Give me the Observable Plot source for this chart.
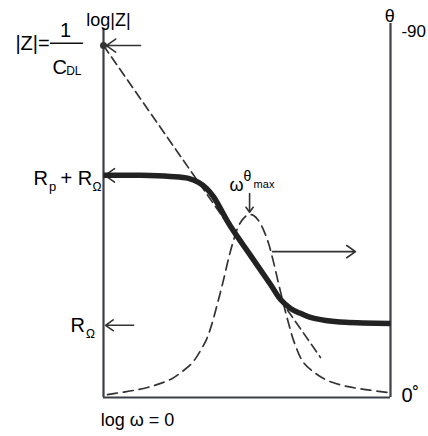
<!DOCTYPE html>
<html>
<head>
<meta charset="utf-8">
<script src="https://cdn.jsdelivr.net/npm/d3@7"></script>
<script src="https://cdn.jsdelivr.net/npm/@observablehq/plot@0.6"></script>
<style>
  html, body { margin: 0; padding: 0; background: #fff; }
</style>
</head>
<body>
<div id="chart"></div>
<script>
// log|Z| (solid, thick) vs log ω (arbitrary units 0..10)
const logW  = [0, 1.29, 2.33, 2.96, 3.31, 3.59, 3.83, 4.43, 5.12, 5.82, 6.17, 6.52, 6.86, 7.21, 7.74, 8.43, 10];
const logZ  = [5.94, 5.94, 5.91, 5.86, 5.75, 5.59, 5.37, 4.57, 3.80, 3.02, 2.62, 2.38, 2.25, 2.14, 2.06, 2.01, 1.98];

// capacitive asymptote 1/(ωC_DL) (dashed)
const asymW = [0, 7.56];
const asymZ = [9.41, 1.07];

// phase angle |θ| in degrees (dashed bell)
const phaseW = [0.14, 0.59, 1.05, 1.53, 1.99, 2.40, 2.79, 3.10, 3.38, 3.59, 3.76, 3.97, 4.15, 4.36, 4.53, 4.70, 4.88, 5.05, 5.23, 5.40, 5.57, 5.75, 5.92, 6.10, 6.27, 6.45, 6.66, 6.97, 7.39, 7.80, 8.33, 8.85, 9.37, 9.90];
const phaseDeg = [0.7, 1.2, 1.7, 2.4, 3.4, 4.6, 6.5, 8.4, 11.3, 14.0, 17.3, 22.6, 27.4, 33.5, 37.8, 41.2, 43.1, 44.0, 43.8, 42.6, 40.4, 37.1, 32.7, 27.4, 22.6, 17.8, 13.0, 8.4, 5.8, 4.1, 2.9, 2.2, 1.7, 1.2];
const phaseMax = 90; // right axis: -90 at top, 0 at bottom

// annotation arrows: [x1, y1, x2, y2, headLength]
const arrowNames = ["1/Cdl", "Rp+RΩ", "RΩ", "θmax", "toθaxis"];
const arrowX1 = [1.29, 1.50, 1.05, 5.09, 5.89];
const arrowY1 = [9.41, 5.94, 1.93, 5.45, 3.90];
const arrowX2 = [0.10, 0.05, 0.07, 5.09, 8.78];
const arrowY2 = [9.41, 5.94, 1.93, 4.95, 3.90];
const arrowHead = [11, 11, 11, 6, 10];

// marker at |Z| = 1/C_DL
const dotW = [0];
const dotZ = [9.41];

// fraction bar in "1 / C_DL"
const barX = [-1.85, -0.73];
const barY = [9.47, 9.47];

// axes frame extents
const leftAxisTop = 9.87;
const rightAxisTop = 10;

// labels
const labelText   = ["log|Z|", "θ", "-90", "0˚", "log ω = 0", "|Z|=", "1", "C", "DL", "R", "p", "+ R", "Ω", "R", "Ω", "ω", "θ", "max"];
const labelX      = [0.17, 9.97, 10.38, 10.38, -0.10, -3.07, -1.32, -1.78, -1.30, -2.44, -1.90, -1.50, -0.38, -1.15, -0.61, 4.39, 4.88, 5.23];
const labelY      = [9.92, 10.03, 9.63, -0.13, -0.75, 9.28, 9.63, 8.66, 8.61, 5.67, 5.51, 5.67, 5.53, 1.74, 1.60, 5.53, 5.80, 5.61];
const labelSize   = [18, 18, 17, 20, 18, 20, 20, 20, 12, 20, 13, 20, 12, 20, 12, 18, 14, 11];
const labelAnchor = ["middle", "middle", "start", "start", "start", "start", "middle", "start", "start", "start", "start", "start", "start", "start", "start", "start", "start", "start"];

const solid = logW.map((x, i) => ({x, y: logZ[i]}));
const asym = asymW.map((x, i) => ({x, y: asymZ[i]}));
const phase = phaseW.map((x, i) => ({x, y: phaseDeg[i] / phaseMax * 10}));
const arrows = arrowNames.map((name, i) => ({name, x1: arrowX1[i], y1: arrowY1[i], x2: arrowX2[i], y2: arrowY2[i], h: arrowHead[i]}));
const labels = labelText.map((text, i) => ({text, x: labelX[i], y: labelY[i], size: labelSize[i], anchor: labelAnchor[i]}));
const bar = barX.map((x, i) => ({x, y: barY[i]}));

const axisColor = "#3d3f47";
const inkColor = "#222";

const chart = Plot.plot({
  width: 428,
  height: 436,
  marginLeft: 103,
  marginRight: 38,
  marginTop: 23,
  marginBottom: 39,
  x: {domain: [0, 10], axis: null},
  y: {domain: [0, 10], axis: null},
  style: {fontFamily: "'Liberation Sans', Arial, sans-serif", background: "white", color: "black"},
  marks: [
    // axes frame
    Plot.ruleX([0], {y1: 0, y2: leftAxisTop, stroke: axisColor, strokeWidth: 2.2}),
    Plot.ruleX([10], {y1: 0, y2: rightAxisTop, stroke: axisColor, strokeWidth: 2.2}),
    Plot.ruleY([0], {x1: 0, x2: 10, stroke: axisColor, strokeWidth: 2.2}),
    // dashed asymptote and phase curve
    Plot.line(asym, {x: "x", y: "y", stroke: "#333", strokeWidth: 1.7, strokeDasharray: "9,5"}),
    Plot.line(phase, {x: "x", y: "y", curve: "catmull-rom", stroke: "#333", strokeWidth: 1.7, strokeDasharray: "10,6"}),
    // arrows
    ...arrows.map(a => Plot.arrow([a], {x1: "x1", y1: "y1", x2: "x2", y2: "y2", stroke: "#333", strokeWidth: 1.6, headLength: a.h, headAngle: 70})),
    // |Z| curve
    Plot.line(solid, {x: "x", y: "y", curve: "catmull-rom", stroke: inkColor, strokeWidth: 5.5, strokeLinecap: "butt"}),
    // dot at 1/C_DL
    Plot.dot(dotW.map((x, i) => ({x, y: dotZ[i]})), {x: "x", y: "y", r: 3.5, fill: "#333", stroke: "none"}),
    // fraction bar
    Plot.line(bar, {x: "x", y: "y", stroke: "#111", strokeWidth: 1.4}),
    // labels
    Plot.text(labels.filter(d => d.anchor === "start"), {x: "x", y: "y", text: "text", fontSize: "size", textAnchor: "start", lineAnchor: "bottom", fill: "black"}),
    Plot.text(labels.filter(d => d.anchor === "middle"), {x: "x", y: "y", text: "text", fontSize: "size", textAnchor: "middle", lineAnchor: "bottom", fill: "black"})
  ]
});
document.getElementById("chart").appendChild(chart);
</script>
</body>
</html>
